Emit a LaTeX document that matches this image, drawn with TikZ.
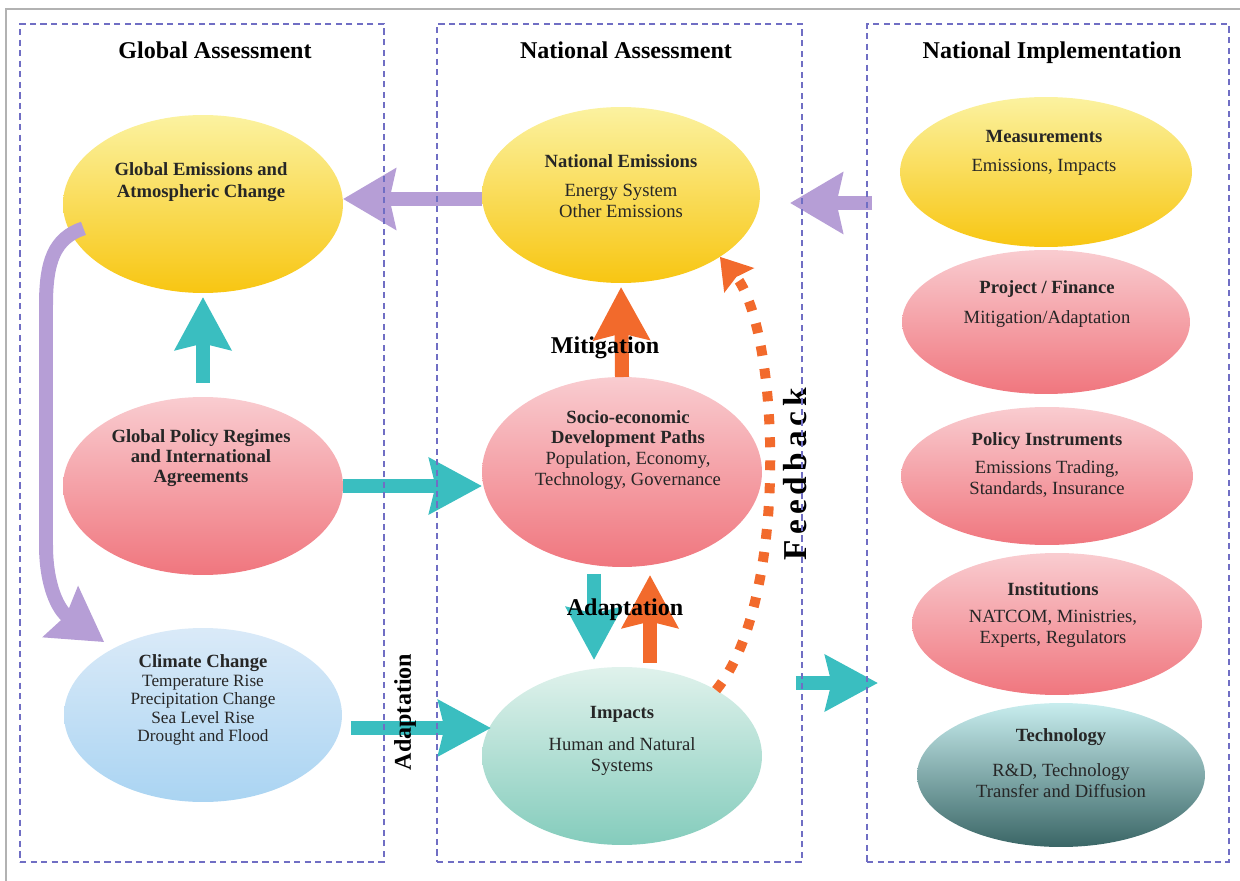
\documentclass[tikz,border=0pt]{standalone}
\usepackage{fontspec}
\setmainfont{Liberation Serif}
\usetikzlibrary{shapes.geometric,arrows.meta,positioning}
\pgfdeclarelayer{front}
\pgfsetlayers{main,front}

\definecolor{boxc}{RGB}{112,110,196}
\definecolor{tealA}{RGB}{58,190,192}
\definecolor{orangeA}{RGB}{242,106,44}
\definecolor{lilac}{RGB}{182,158,214}
\definecolor{yelT}{RGB}{251,242,160}
\definecolor{yelB}{RGB}{248,198,18}
\definecolor{pinkT}{RGB}{249,204,208}
\definecolor{pinkB}{RGB}{240,118,126}
\definecolor{bluT}{RGB}{218,234,248}
\definecolor{bluB}{RGB}{170,212,242}
\definecolor{impT}{RGB}{224,242,236}
\definecolor{impB}{RGB}{132,204,188}
\definecolor{tecT}{RGB}{200,237,238}
\definecolor{tecB}{RGB}{58,102,102}

\tikzset{
  box/.style={draw=boxc,line width=0.8pt,dash pattern=on 3.5pt off 2.5pt,inner sep=0pt,outer sep=0pt},
  oval/.style={ellipse,inner sep=0pt,outer sep=0pt},
  yel/.style={oval,top color=yelT,bottom color=yelB},
  pnk/.style={oval,top color=pinkT,bottom color=pinkB},
  blu/.style={oval,top color=bluT,bottom color=bluB},
  imp/.style={oval,top color=impT,bottom color=impB},
  tec/.style={oval,top color=tecT,bottom color=tecB},
  txt/.style={align=center,inner sep=0pt,text=black!85,font=\fontsize{10.6}{11.9}\selectfont},
  ttl/.style={inner sep=0pt,font=\fontsize{13.7}{16}\selectfont\bfseries},
  tarr/.style={draw=tealA,line width=0.28cm,-{Stealth[length=1.05cm,width=1.1cm,inset=0.12cm]}},
  oarr/.style={draw=orangeA,line width=0.28cm,-{Stealth[length=1.05cm,width=1.1cm,inset=0.12cm]}},
  parr/.style={draw=lilac,line width=0.28cm,-{Stealth[length=1.05cm,width=1.2cm,inset=0.12cm]}},
  fback/.style={draw=orangeA,line width=0.2cm,dash pattern=on 0.2cm off 0.26cm,-{Stealth[length=0.6cm,width=0.75cm,inset=0.08cm]}}
}

\begin{document}
\begin{tikzpicture}[x=0.02cm,y=-0.02cm]
\useasboundingbox (0,0) rectangle (1240,881);
\draw[gray!60,line width=0.6pt] (6,881) -- (6,9) -- (1240,9);

% the three columns
\begin{pgfonlayer}{front}
\node[box,minimum width=7.28cm,minimum height=16.76cm] (boxGA) at (202,443) {};
\node[box,minimum width=7.3cm,minimum height=16.76cm] (boxNA) at (619.5,443) {};
\node[box,minimum width=7.24cm,minimum height=16.76cm] (boxNI) at (1048,443) {};
\end{pgfonlayer}
\node[ttl,anchor=base] (tGA) at (215,59) {Global Assessment};
\node[ttl,anchor=base] (tNA) at (626,59) {National Assessment};
\node[ttl,anchor=base] (tNI) at (1052,59) {National Implementation};

% global assessment
\node[yel,minimum width=5.6cm,minimum height=3.56cm] (ge) at (203,204) {};
\node[pnk,minimum width=5.6cm,minimum height=3.56cm] (gp) at (203,486) {};
\node[blu,minimum width=5.56cm,minimum height=3.48cm] (cc) at (203,715) {};
% national assessment
\node[yel,minimum width=5.56cm,minimum height=3.52cm] (ne) at (621,195) {};
\node[pnk,minimum width=5.6cm,minimum height=3.8cm] (se) at (622,472) {};
\node[imp,minimum width=5.6cm,minimum height=3.56cm] (im) at (622,756) {};
% national implementation
\node[yel,minimum width=5.84cm,minimum height=3.0cm] (me) at (1046,172) {};
\node[pnk,minimum width=5.76cm,minimum height=2.88cm] (pf) at (1046,322) {};
\node[pnk,minimum width=5.84cm,minimum height=2.76cm] (pi) at (1047,476) {};
\node[pnk,minimum width=5.8cm,minimum height=2.84cm] (in) at (1057,624) {};
\node[tec,minimum width=5.76cm,minimum height=2.88cm] (te) at (1061,775) {};

% texts in the ovals
\node[txt,font=\fontsize{10.6}{12.5}\selectfont\bfseries] (geT) at (201,182) {Global Emissions and\\Atmospheric Change};
\node[txt,font=\fontsize{10.6}{11.6}\selectfont\bfseries] (gpT) at (201,458) {Global Policy Regimes\\and International\\Agreements};
\node[txt,font=\fontsize{9.8}{10.5}\selectfont] (ccT) at (203,700) {{\fontsize{10.6}{10.5}\selectfont\bfseries Climate Change}\\Temperature Rise\\Precipitation Change\\Sea Level Rise\\Drought and Flood};
\node[txt] (neT) at (621,186) {\textbf{National Emissions}\\[5pt]Energy System\\Other Emissions};
\node[txt] (seT) at (628,450) {\textbf{Socio-economic}\\\textbf{Development Paths}\\Population, Economy,\\Technology, Governance};
\node[txt] (imT) at (622,741) {\textbf{Impacts}\\[6pt]Human and Natural\\Systems};
\node[txt] (meT) at (1044,153) {\textbf{Measurements}\\[5pt]Emissions, Impacts};
\node[txt] (pfT) at (1047,304) {\textbf{Project / Finance}\\[5pt]Mitigation/Adaptation};
\node[txt] (piT) at (1047,465) {\textbf{Policy Instruments}\\[4pt]Emissions Trading,\\Standards, Insurance};
\node[txt] (inT) at (1053,615) {\textbf{Institutions}\\[4pt]NATCOM, Ministries,\\Experts, Regulators};
\node[txt] (teT) at (1061,763) {\textbf{Technology}\\[8pt]R\&D, Technology\\Transfer and Diffusion};

% purple flows
\draw[parr] ([shift={(0,4)}]ne.west) -- ([shift={(0,4)}]ne.west -| ge.east);
\draw[parr] ([shift={(-28,31)}]me.west) -- ([shift={(30,8)}]ne.east);
\draw[parr] ([shift={(12,-6)}]ge.193) .. controls (54,238) and (46,262) .. (46,305) -- (46,545) .. controls (46,585) and (58,610) .. ([shift={(-10,-6)}]cc.143);
% teal flows
\draw[tarr,shorten <=0.28cm,shorten >=0.08cm] (gp.north) -- (ge.south);
\draw[tarr] (gp.east) -- (gp.east -| se.west);
\draw[tarr] ([shift={(9,13)}]cc.east) -- ([shift={(9,13)}]cc.east -| im.west);
\draw[tarr] ([shift={(-28,7)}]se.south) -- ([shift={(-28,-7)}]im.north);
\draw[tarr] ([shift={(-6,240)}]boxNA.east) -- ([shift={(11,240)}]boxNI.west);
% orange flows
\draw[oarr,shorten >=0.08cm] (se.north) -- (ne.south);
\draw[oarr] ([shift={(28,-4)}]im.north) -- ([shift={(28,8)}]se.south);
\draw[fback] (im.35) .. controls (790,600) and (780,330) .. (ne.-32);

% arrow labels
\node[ttl] (mit) at (605,348) {Mitigation};
\node[ttl] (adp) at (625,610) {Adaptation};
\node[ttl,rotate=90] (adpV) at (405,712) {Adaptation};
\node[ttl,rotate=90,font=\fontsize{19}{22}\selectfont\bfseries] (fbk) at (795,474) {\addfontfeature{LetterSpace=15}Feedback};
\end{tikzpicture}
\end{document}
